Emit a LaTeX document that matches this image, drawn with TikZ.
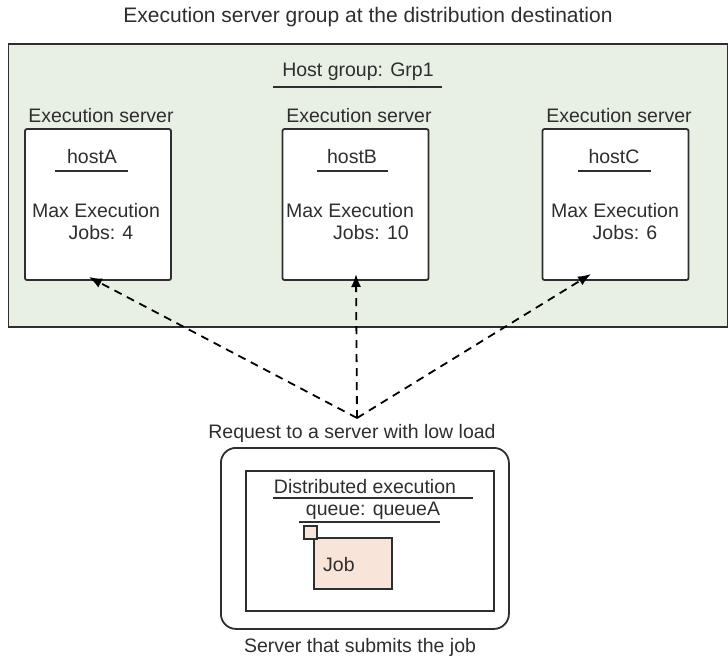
\documentclass[tikz,border=0pt]{standalone}
\usepackage{fontspec}
\setmainfont{Liberation Sans}
\usetikzlibrary{arrows.meta}
\definecolor{grpfill}{HTML}{E8F0E4}
\definecolor{jobfill}{HTML}{F9E4D9}
\definecolor{ink}{HTML}{2E2E2E}
\begin{document}
\begin{tikzpicture}[x=1pt,y=-1pt,
  txt/.style={font=\fontsize{19.5}{22}\selectfont, text=ink, inner sep=0pt},
  hostbox/.style={draw=ink, line width=1.8pt, rounded corners=2pt, fill=white, minimum width=146pt, minimum height=151pt, inner sep=0pt},
  uline/.style={draw=ink, line width=1.7pt},
  req/.style={draw=black, dash pattern=on 8pt off 6pt, line width=1.8pt, -{Latex[length=13pt,width=10pt]}}]
\useasboundingbox (0,0) rectangle (728,657);
\node[txt, font=\fontsize{21}{24}\selectfont] (title) at (368,17) {Execution server group at the distribution destination};
\node[draw=ink, fill=grpfill, line width=1.8pt, minimum width=719pt, minimum height=283pt, inner sep=0pt, anchor=north west] (grp) at (7.5,43) {};
\node[txt] (hg) at (358,72) {Host group: Grp1};
\draw[uline] (273,87) -- (442,87);
% execution server labels
\node[txt] (lA) at (101,116) {Execution server};
\node[txt] (lB) at (359,116) {Execution server};
\node[txt] (lC) at (619,116) {Execution server};
% host boxes
\node[hostbox] (hA) at (98,204.5) {};
\node[hostbox] (hB) at (355.5,204.5) {};
\node[hostbox] (hC) at (615.5,204.5) {};
\node[txt] (nA) at (92,157) {hostA};
\node[txt] (nB) at (352,157) {hostB};
\node[txt] (nC) at (614,157) {hostC};
\draw[uline] (55,171) -- (128,171);
\draw[uline] (317,171) -- (388,171);
\draw[uline] (578,171) -- (651,171);
\node[txt] (mA) at (96,211) {Max Execution};
\node[txt] (mB) at (350,211) {Max Execution};
\node[txt] (mC) at (615,211) {Max Execution};
\node[txt] (jA) at (101,233) {Jobs: 4};
\node[txt] (jB) at (371,233) {Jobs: 10};
\node[txt] (jC) at (625,233) {Jobs: 6};
% request arrows
\coordinate (src) at (357,418);
\coordinate (tA) at (89,277);
\coordinate (tB) at (356,274);
\coordinate (tC) at (591,274);
\draw[req] (src) -- (tA);
\draw[req] (src) -- (tB);
\draw[req] (src) -- (tC);
\node[txt] (rq) at (352,433) {Request to a server with low load};
% submitting server
\node[draw=ink, line width=1.8pt, rounded corners=15pt, minimum width=288pt, minimum height=181pt, inner sep=0pt, anchor=north west] (sub) at (220,447) {};
\node[draw=ink, line width=1.8pt, minimum width=248pt, minimum height=140pt, inner sep=0pt, anchor=north west] (queue) at (245,470) {};
\node[txt] (q1) at (365,487) {Distributed execution};
\draw[uline] (273,498) -- (473,498);
\node[txt] (q2) at (373,511) {queue: queueA};
\draw[uline] (299,522) -- (440,522);
\node[draw=ink, fill=jobfill, line width=1.8pt, minimum width=78pt, minimum height=51pt, inner sep=0pt, anchor=north west] (job) at (313,537) {};
\node[draw=ink, fill=jobfill, line width=1.5pt, minimum width=13pt, minimum height=13pt, inner sep=0pt, anchor=north west] (sq) at (303,525) {};
\node[txt, anchor=west] (jt) at (323,565) {Job};
\node[txt] (st) at (360,647) {Server that submits the job};
\end{tikzpicture}
\end{document}
